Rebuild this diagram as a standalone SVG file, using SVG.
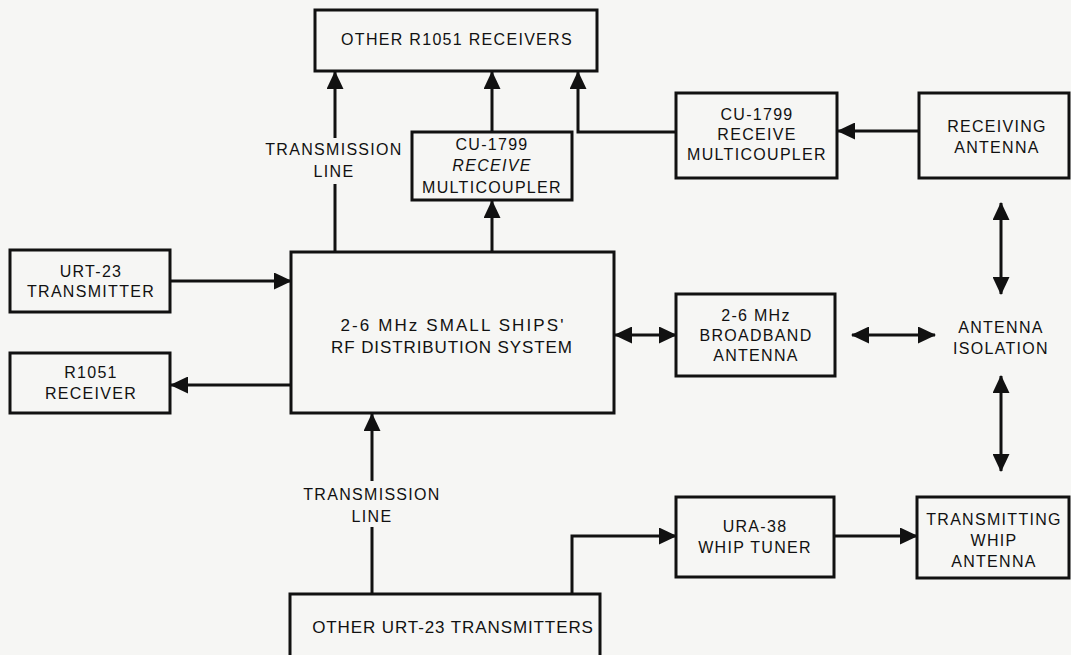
<svg xmlns="http://www.w3.org/2000/svg" width="1071" height="655" viewBox="0 0 1071 655">
<style>
.box{fill:none;stroke:#111;stroke-width:3}
.ln{fill:none;stroke:#111;stroke-width:3}
text{font-family:"Liberation Sans",Arial,sans-serif;font-size:16px;fill:#111;text-anchor:middle;letter-spacing:1.3px}
.big{font-size:17px;letter-spacing:0.9px}
</style>
<defs>
<marker id="ah" markerUnits="userSpaceOnUse" markerWidth="18" markerHeight="17" refX="17" refY="8.5" orient="auto-start-reverse">
<path d="M0,0 L18,8.5 L0,17 Z" fill="#111"/>
</marker>
</defs>
<rect width="1071" height="655" fill="#f6f6f4"/>
<g id="connectors">
<path class="ln" d="M335,252 V184"/>
<path class="ln" d="M335,138 V72" marker-end="url(#ah)"/>
<path class="ln" d="M492,132 V72" marker-end="url(#ah)"/>
<path class="ln" d="M676,132 H578 V72" marker-end="url(#ah)"/>
<path class="ln" d="M492,252 V201" marker-end="url(#ah)"/>
<path class="ln" d="M919,131 H838" marker-end="url(#ah)"/>
<path class="ln" d="M170,281 H291" marker-end="url(#ah)"/>
<path class="ln" d="M291,385 H171" marker-end="url(#ah)"/>
<path class="ln" d="M615,335 H676" marker-start="url(#ah)" marker-end="url(#ah)"/>
<path class="ln" d="M852,335 H935" marker-start="url(#ah)" marker-end="url(#ah)"/>
<path class="ln" d="M1001,203 V294" marker-start="url(#ah)" marker-end="url(#ah)"/>
<path class="ln" d="M1001,376 V471" marker-start="url(#ah)" marker-end="url(#ah)"/>
<path class="ln" d="M372,594 V527"/>
<path class="ln" d="M372,481 V414" marker-end="url(#ah)"/>
<path class="ln" d="M572,594 V536 H676" marker-end="url(#ah)"/>
<path class="ln" d="M834,536 H917" marker-end="url(#ah)"/>
</g>
<g id="other-r1051">
<rect class="box" x="315" y="10" width="282" height="61"/>
<text x="457" y="45">OTHER R1051 RECEIVERS</text>
</g>
<g id="tl-top">
<text x="334" y="155">TRANSMISSION</text>
<text x="334" y="177">LINE</text>
</g>
<g id="cu1799-a">
<rect class="box" x="412" y="132" width="160" height="68"/>
<text x="492" y="150">CU-1799</text>
<text x="492" y="171" font-style="italic">RECEIVE</text>
<text x="492" y="193">MULTICOUPLER</text>
</g>
<g id="cu1799-b">
<rect class="box" x="676" y="93" width="161" height="85"/>
<text x="757" y="120">CU-1799</text>
<text x="757" y="140">RECEIVE</text>
<text x="757" y="160">MULTICOUPLER</text>
</g>
<g id="rx-antenna">
<rect class="box" x="919" y="93" width="150" height="85"/>
<text x="997" y="132">RECEIVING</text>
<text x="997" y="153">ANTENNA</text>
</g>
<g id="urt23">
<rect class="box" x="10" y="250" width="160" height="62"/>
<text x="91" y="277">URT-23</text>
<text x="91" y="297">TRANSMITTER</text>
</g>
<g id="r1051">
<rect class="box" x="10" y="353" width="160" height="60"/>
<text x="91" y="378">R1051</text>
<text x="91" y="399">RECEIVER</text>
</g>
<g id="rf-dist">
<rect class="box" x="291" y="252" width="323" height="161"/>
<text class="big" x="453" y="331" style="letter-spacing:2.1px">2-6 MHz SMALL SHIPS'</text>
<text class="big" x="452" y="353">RF DISTRIBUTION SYSTEM</text>
</g>
<g id="broadband">
<rect class="box" x="676" y="294" width="159" height="82"/>
<text x="756" y="321">2-6 MHz</text>
<text x="756" y="341">BROADBAND</text>
<text x="756" y="361">ANTENNA</text>
</g>
<g id="isolation">
<text x="1001" y="333">ANTENNA</text>
<text x="1001" y="354">ISOLATION</text>
</g>
<g id="tl-bottom">
<text x="372" y="500">TRANSMISSION</text>
<text x="372" y="522">LINE</text>
</g>
<g id="ura38">
<rect class="box" x="676" y="497" width="158" height="80"/>
<text x="755" y="532">URA-38</text>
<text x="755" y="553">WHIP TUNER</text>
</g>
<g id="tx-whip">
<rect class="box" x="917" y="497" width="152" height="81"/>
<text x="994" y="525">TRANSMITTING</text>
<text x="994" y="546">WHIP</text>
<text x="994" y="567">ANTENNA</text>
</g>
<g id="other-urt23">
<rect class="box" x="290" y="594" width="310" height="70"/>
<text class="big" x="453" y="633">OTHER URT-23 TRANSMITTERS</text>
</g>
</svg>
